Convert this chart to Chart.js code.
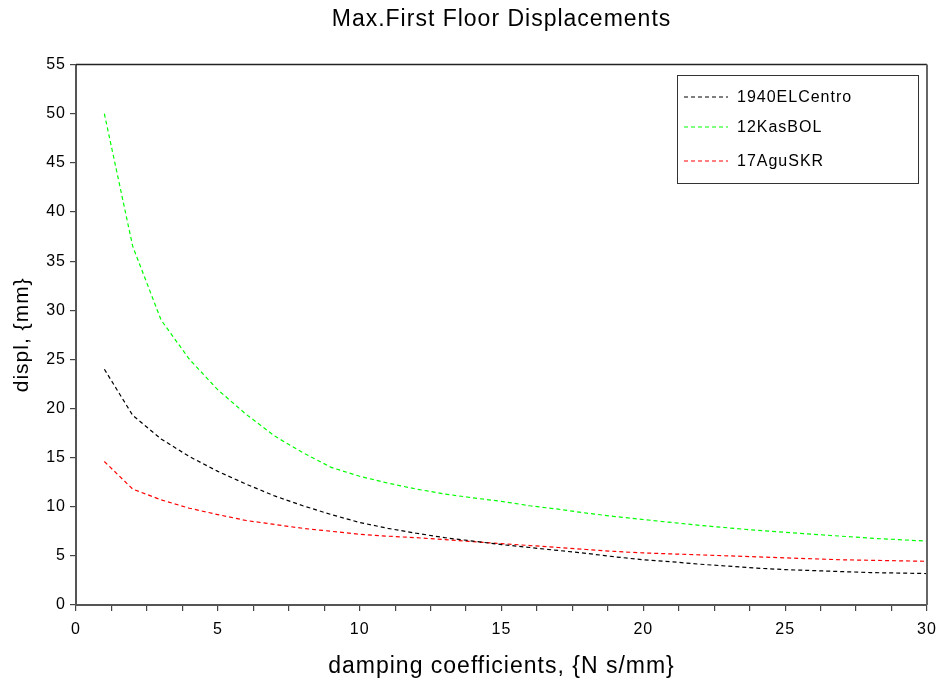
<!DOCTYPE html>
<html>
<head>
<meta charset="utf-8">
<script src="https://cdn.jsdelivr.net/npm/chart.js@4/dist/chart.umd.min.js"></script>
<style>
  html, body { margin: 0; padding: 0; background: #fff; }
  #wrap { width: 941px; height: 684px; }
</style>
</head>
<body>
<div id="wrap"><canvas id="dispChart" width="941" height="684"></canvas></div>
<script>
// damping coefficient values (x) and max displacements (mm) per record
const damping = [1, 2, 3, 4, 5, 6, 7, 8, 9, 10, 11, 12, 13, 14, 15,
                 16, 17, 18, 19, 20, 21, 22, 23, 24, 25, 26, 27, 28, 29, 30];
const elCentro = [24.0, 19.3, 16.9, 15.1, 13.6, 12.3, 11.1, 10.1, 9.2, 8.4,
                  7.8, 7.3, 6.85, 6.5, 6.15, 5.85, 5.55, 5.25, 4.9, 4.6,
                  4.4, 4.15, 3.95, 3.75, 3.6, 3.5, 3.4, 3.3, 3.25, 3.2];
const kasBOL = [50.0, 36.5, 29.0, 25.0, 21.9, 19.4, 17.2, 15.5, 14.0, 13.1,
                12.4, 11.8, 11.3, 10.9, 10.55, 10.1, 9.75, 9.35, 9.0, 8.7,
                8.4, 8.1, 7.85, 7.6, 7.4, 7.2, 7.0, 6.8, 6.65, 6.5];
const aguSKR = [14.6, 11.8, 10.7, 9.85, 9.2, 8.6, 8.2, 7.8, 7.5, 7.2,
                7.0, 6.85, 6.65, 6.45, 6.25, 6.05, 5.85, 5.65, 5.45, 5.3,
                5.2, 5.1, 5.0, 4.9, 4.8, 4.7, 4.6, 4.55, 4.5, 4.45];
const seriesNames = ['1940ELCentro', '12KasBOL', '17AguSKR'];
const seriesColors = ['#000000', '#00ff00', '#ff0000'];

const FONT = 'Liberation Sans, Arial, Helvetica, sans-serif';

function toPoints(ys) {
    return ys.map(function (y, i) { return { x: damping[i], y: y }; });
}

// the original text looks a little wider, open it up slightly
const spacingPlugin = {
    id: 'spacing',
    beforeDraw: function (chart) {
        chart.ctx.letterSpacing = '1px';
    }
};

// frame on top/right plus a boxed legend inside the plot
const framePlugin = {
    id: 'frameAndLegend',
    afterDraw: function (chart) {
        const ctx = chart.ctx;
        const a = chart.chartArea;
        ctx.save();
        ctx.lineWidth = 1.5;
        ctx.strokeStyle = '#222';
        ctx.beginPath();
        ctx.moveTo(a.left, a.top);
        ctx.lineTo(a.right, a.top);
        ctx.stroke();
        ctx.lineWidth = 2;
        ctx.strokeStyle = '#666';
        ctx.beginPath();
        ctx.moveTo(a.right, a.top);
        ctx.lineTo(a.right, a.bottom);
        ctx.stroke();

        // legend box
        const bx = 677, by = 75, bw = 241, bh = 108;
        ctx.lineWidth = 1;
        ctx.strokeStyle = '#333';
        ctx.strokeRect(bx + 0.5, by + 0.5, bw, bh);
        const rows = [97, 127, 161];
        ctx.font = '16px ' + FONT;
        ctx.textBaseline = 'middle';
        ctx.textAlign = 'left';
        for (let i = 0; i < seriesNames.length; i++) {
            ctx.setLineDash([4, 3]);
            ctx.lineWidth = 1.2;
            ctx.strokeStyle = seriesColors[i];
            ctx.beginPath();
            ctx.moveTo(684, rows[i]);
            ctx.lineTo(728, rows[i]);
            ctx.stroke();
            ctx.setLineDash([]);
            ctx.fillStyle = '#000';
            ctx.fillText(seriesNames[i], 737, rows[i] + 1);
        }
        ctx.restore();
    }
};

const ctx = document.getElementById('dispChart').getContext('2d');
new Chart(ctx, {
    type: 'line',
    data: {
        datasets: seriesNames.map(function (name, i) {
            return {
                label: name,
                data: toPoints([elCentro, kasBOL, aguSKR][i]),
                borderColor: seriesColors[i],
                borderWidth: 1.2,
                borderDash: [4, 3],
                pointRadius: 0,
                tension: 0,
                fill: false
            };
        })
    },
    options: {
        responsive: false,
        animation: false,
        layout: { padding: { left: 0, right: 14, top: 0, bottom: 0 } },
        scales: {
            x: {
                type: 'linear',
                min: 0,
                max: 30,
                afterFit: function (scale) {
                    scale.height = 79;
                    scale.paddingLeft = 0;
                    scale.paddingRight = 0;
                },
                afterBuildTicks: function (scale) {
                    const t = [];
                    for (let v = 0; v <= 30; v += 1.25) t.push({ value: v });
                    scale.ticks = t;
                },
                ticks: {
                    autoSkip: false,
                    maxRotation: 0,
                    padding: 9,
                    color: '#000',
                    font: { family: FONT, size: 16 },
                    callback: function (v) { return v % 5 === 0 ? String(v) : ''; }
                },
                grid: { drawOnChartArea: false, drawTicks: true, tickLength: 6, color: '#444', lineWidth: 1.2 },
                border: { display: true, color: '#555', width: 2 },
                title: {
                    display: true,
                    text: 'damping coefficients, {N s/mm}',
                    color: '#000',
                    font: { family: FONT, size: 23 },
                    padding: { top: 0, bottom: 4 }
                }
            },
            y: {
                min: 0,
                max: 55,
                afterFit: function (scale) { scale.width = 76; },
                ticks: {
                    stepSize: 5,
                    padding: 4,
                    color: '#000',
                    font: { family: FONT, size: 16 }
                },
                grid: { drawOnChartArea: false, drawTicks: true, tickLength: 6, color: '#444', lineWidth: 1.2 },
                border: { display: true, color: '#555', width: 2 },
                title: {
                    display: true,
                    text: 'displ, {mm}',
                    color: '#000',
                    font: { family: FONT, size: 21 },
                    padding: { top: 10, bottom: 0 }
                }
            }
        },
        plugins: {
            legend: { display: false },
            tooltip: { enabled: false },
            title: {
                display: true,
                text: 'Max.First Floor Displacements',
                fullSize: false,
                color: '#000',
                font: { family: FONT, size: 23, weight: 'normal' },
                padding: { top: 6, bottom: 31 }
            }
        }
    },
    plugins: [spacingPlugin, framePlugin]
});
</script>
</body>
</html>
